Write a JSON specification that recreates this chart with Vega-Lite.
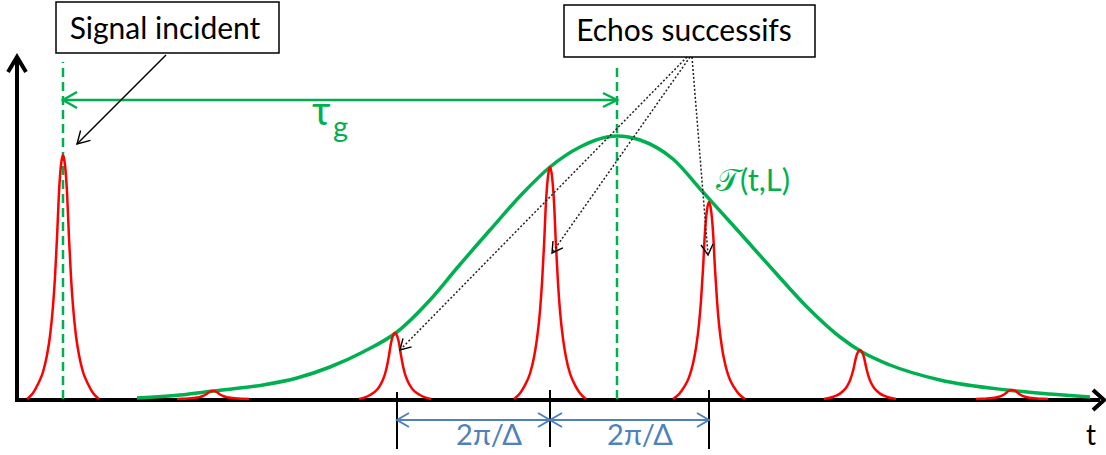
{
"$schema":"https://vega.github.io/schema/vega-lite/v6.json",
"width":1106,"height":455,"padding":0,"autosize":{"type":"none"},
"background":"white",
"config":{"view":{"stroke":null}},
"datasets":{
"seg":[
{"g":"axH","s":"axis","o":0,"x":15,"y":-1},{"g":"axH","s":"axis","o":1,"x":1100,"y":-1},
{"g":"axHh","s":"axis","o":0,"x":1093,"y":9},{"g":"axHh","s":"axis","o":1,"x":1104,"y":-1},{"g":"axHh","s":"axis","o":2,"x":1093,"y":-11},
{"g":"axV","s":"axis","o":0,"x":17,"y":-3},{"g":"axV","s":"axis","o":1,"x":17,"y":339},
{"g":"axVh","s":"axis","o":0,"x":8,"y":327},{"g":"axVh","s":"axis","o":1,"x":17,"y":342},{"g":"axVh","s":"axis","o":2,"x":26,"y":327},
{"g":"t1","s":"tick","o":0,"x":397,"y":7},{"g":"t1","s":"tick","o":1,"x":397,"y":-50},
{"g":"t2","s":"tick","o":0,"x":550,"y":9},{"g":"t2","s":"tick","o":1,"x":550,"y":-48},
{"g":"t3","s":"tick","o":0,"x":709,"y":9},{"g":"t3","s":"tick","o":1,"x":709,"y":-50},
{"g":"d1","s":"gdash","o":0,"x":63,"y":0},{"g":"d1","s":"gdash","o":1,"x":63,"y":337},
{"g":"d2","s":"gdash","o":0,"x":617,"y":0},{"g":"d2","s":"gdash","o":1,"x":617,"y":334},
{"g":"ga","s":"garrow","o":0,"x":63,"y":299},{"g":"ga","s":"garrow","o":1,"x":617,"y":299},
{"g":"gaL","s":"garrow","o":0,"x":77,"y":307},{"g":"gaL","s":"garrow","o":1,"x":63,"y":299},{"g":"gaL","s":"garrow","o":2,"x":77,"y":291},
{"g":"gaR","s":"garrow","o":0,"x":603,"y":306},{"g":"gaR","s":"garrow","o":1,"x":617,"y":299},{"g":"gaR","s":"garrow","o":2,"x":603,"y":292},
{"g":"sa","s":"barrow","o":0,"x":166,"y":344},{"g":"sa","s":"barrow","o":1,"x":77,"y":255},
{"g":"saH","s":"barrow","o":0,"x":90.5,"y":258.6},{"g":"saH","s":"barrow","o":1,"x":77,"y":255},{"g":"saH","s":"barrow","o":2,"x":80.6,"y":268.5},
{"g":"e3","s":"dot","o":0,"x":687,"y":342},{"g":"e3","s":"dot","o":1,"x":400,"y":49},
{"g":"e4","s":"dot","o":0,"x":690,"y":342},{"g":"e4","s":"dot","o":1,"x":552,"y":146},
{"g":"e5","s":"dot","o":0,"x":692,"y":342},{"g":"e5","s":"dot","o":1,"x":708,"y":144},
{"g":"h3","s":"barrow","o":0,"x":411.6,"y":52.2},{"g":"h3","s":"barrow","o":1,"x":400,"y":49},{"g":"h3","s":"barrow","o":2,"x":403,"y":60.6},
{"g":"h4","s":"barrow","o":0,"x":562.9,"y":151.1},{"g":"h4","s":"barrow","o":1,"x":552,"y":146},{"g":"h4","s":"barrow","o":2,"x":553,"y":158},
{"g":"h5","s":"barrow","o":0,"x":713,"y":155},{"g":"h5","s":"barrow","o":1,"x":708,"y":144},{"g":"h5","s":"barrow","o":2,"x":701,"y":154},
{"g":"b1","s":"blue","o":0,"x":397,"y":-21},{"g":"b1","s":"blue","o":1,"x":550,"y":-21},
{"g":"b2","s":"blue","o":0,"x":550,"y":-21},{"g":"b2","s":"blue","o":1,"x":709,"y":-21},
{"g":"bh1","s":"blue","o":0,"x":409,"y":-14},{"g":"bh1","s":"blue","o":1,"x":397,"y":-21},{"g":"bh1","s":"blue","o":2,"x":409,"y":-28},
{"g":"bh2","s":"blue","o":0,"x":538,"y":-14},{"g":"bh2","s":"blue","o":1,"x":550,"y":-21},{"g":"bh2","s":"blue","o":2,"x":538,"y":-28},
{"g":"bh3","s":"blue","o":0,"x":562,"y":-14},{"g":"bh3","s":"blue","o":1,"x":550,"y":-21},{"g":"bh3","s":"blue","o":2,"x":562,"y":-28},
{"g":"bh4","s":"blue","o":0,"x":697,"y":-14},{"g":"bh4","s":"blue","o":1,"x":709,"y":-21},{"g":"bh4","s":"blue","o":2,"x":697,"y":-28}
],
"env":[
{"x":137,"y":1},{"x":180,"y":4},{"x":213,"y":8},{"x":263,"y":14},{"x":297,"y":21},{"x":330,"y":32},{"x":363,"y":47},{"x":397,"y":67},{"x":430,"y":99},{"x":457,"y":131},{"x":490,"y":169},{"x":523,"y":206},{"x":550,"y":232},{"x":580,"y":252},{"x":607,"y":262},{"x":617,"y":263},{"x":640,"y":259},{"x":673,"y":240},{"x":702,"y":208},{"x":740,"y":166},{"x":773,"y":129},{"x":807,"y":92},{"x":840,"y":62},{"x":862,"y":47},{"x":890,"y":34},{"x":940,"y":19},{"x":1007,"y":9},{"x":1050,"y":5},{"x":1090,"y":2}
],
"pulse":[
{"g":1,"x":27,"y":0},{"g":1,"x":33,"y":6},{"g":1,"x":38,"y":15},{"g":1,"x":43,"y":27},{"g":1,"x":47,"y":44},{"g":1,"x":50,"y":63},{"g":1,"x":53,"y":93},{"g":1,"x":55,"y":122},{"g":1,"x":57,"y":161},{"g":1,"x":59,"y":207},{"g":1,"x":61,"y":234},{"g":1,"x":63,"y":244},{"g":1,"x":65,"y":234},{"g":1,"x":67,"y":207},{"g":1,"x":69,"y":161},{"g":1,"x":71,"y":122},{"g":1,"x":73,"y":93},{"g":1,"x":76,"y":63},{"g":1,"x":79,"y":44},{"g":1,"x":83,"y":27},{"g":1,"x":88,"y":15},{"g":1,"x":93,"y":6},{"g":1,"x":99,"y":0},
{"g":2,"x":177,"y":0},{"g":2,"x":183,"y":0.2},{"g":2,"x":188,"y":0.5},{"g":2,"x":193,"y":0.9},{"g":2,"x":197,"y":1.4},{"g":2,"x":200,"y":2.1},{"g":2,"x":203,"y":3},{"g":2,"x":205,"y":4},{"g":2,"x":207,"y":5.3},{"g":2,"x":209,"y":6.8},{"g":2,"x":211,"y":7.7},{"g":2,"x":213,"y":8},{"g":2,"x":215,"y":7.7},{"g":2,"x":217,"y":6.8},{"g":2,"x":219,"y":5.3},{"g":2,"x":221,"y":4},{"g":2,"x":223,"y":3},{"g":2,"x":226,"y":2.1},{"g":2,"x":229,"y":1.4},{"g":2,"x":233,"y":0.9},{"g":2,"x":238,"y":0.5},{"g":2,"x":243,"y":0.2},{"g":2,"x":249,"y":0},
{"g":3,"x":359,"y":0},{"g":3,"x":365,"y":1.7},{"g":3,"x":370,"y":4},{"g":3,"x":375,"y":7.3},{"g":3,"x":379,"y":11.9},{"g":3,"x":382,"y":17.2},{"g":3,"x":385,"y":25},{"g":3,"x":387,"y":33},{"g":3,"x":389,"y":43.6},{"g":3,"x":391,"y":56},{"g":3,"x":393,"y":63.4},{"g":3,"x":395,"y":66},{"g":3,"x":397,"y":63.4},{"g":3,"x":399,"y":56},{"g":3,"x":401,"y":43.6},{"g":3,"x":403,"y":33},{"g":3,"x":405,"y":25},{"g":3,"x":408,"y":17.2},{"g":3,"x":411,"y":11.9},{"g":3,"x":415,"y":7.3},{"g":3,"x":420,"y":4},{"g":3,"x":425,"y":1.7},{"g":3,"x":431,"y":0},
{"g":4,"x":514,"y":0},{"g":4,"x":520,"y":5.8},{"g":4,"x":525,"y":13.9},{"g":4,"x":530,"y":25.5},{"g":4,"x":534,"y":41.8},{"g":4,"x":537,"y":60.3},{"g":4,"x":540,"y":88.2},{"g":4,"x":542,"y":116},{"g":4,"x":544,"y":153.1},{"g":4,"x":546,"y":197.2},{"g":4,"x":548,"y":222.7},{"g":4,"x":550,"y":232},{"g":4,"x":552,"y":222.7},{"g":4,"x":554,"y":197.2},{"g":4,"x":556,"y":153.1},{"g":4,"x":558,"y":116},{"g":4,"x":560,"y":88.2},{"g":4,"x":563,"y":60.3},{"g":4,"x":566,"y":41.8},{"g":4,"x":570,"y":25.5},{"g":4,"x":575,"y":13.9},{"g":4,"x":580,"y":5.8},{"g":4,"x":586,"y":0},
{"g":5,"x":673,"y":0},{"g":5,"x":679,"y":4.9},{"g":5,"x":684,"y":11.8},{"g":5,"x":689,"y":21.7},{"g":5,"x":693,"y":35.5},{"g":5,"x":696,"y":51.2},{"g":5,"x":699,"y":74.9},{"g":5,"x":701,"y":98.5},{"g":5,"x":703,"y":130},{"g":5,"x":705,"y":167.5},{"g":5,"x":707,"y":189.1},{"g":5,"x":709,"y":197},{"g":5,"x":711,"y":189.1},{"g":5,"x":713,"y":167.5},{"g":5,"x":715,"y":130},{"g":5,"x":717,"y":98.5},{"g":5,"x":719,"y":74.9},{"g":5,"x":722,"y":51.2},{"g":5,"x":725,"y":35.5},{"g":5,"x":729,"y":21.7},{"g":5,"x":734,"y":11.8},{"g":5,"x":739,"y":4.9},{"g":5,"x":745,"y":0},
{"g":6,"x":824,"y":0},{"g":6,"x":830,"y":1.2},{"g":6,"x":835,"y":2.9},{"g":6,"x":840,"y":5.4},{"g":6,"x":844,"y":8.8},{"g":6,"x":847,"y":12.7},{"g":6,"x":850,"y":18.6},{"g":6,"x":852,"y":24.5},{"g":6,"x":854,"y":32.3},{"g":6,"x":856,"y":41.7},{"g":6,"x":858,"y":47},{"g":6,"x":860,"y":49},{"g":6,"x":862,"y":47},{"g":6,"x":864,"y":41.7},{"g":6,"x":866,"y":32.3},{"g":6,"x":868,"y":24.5},{"g":6,"x":870,"y":18.6},{"g":6,"x":873,"y":12.7},{"g":6,"x":876,"y":8.8},{"g":6,"x":880,"y":5.4},{"g":6,"x":885,"y":2.9},{"g":6,"x":890,"y":1.2},{"g":6,"x":896,"y":0},
{"g":7,"x":976,"y":0},{"g":7,"x":982,"y":0.2},{"g":7,"x":987,"y":0.5},{"g":7,"x":992,"y":1},{"g":7,"x":996,"y":1.6},{"g":7,"x":999,"y":2.3},{"g":7,"x":1002,"y":3.4},{"g":7,"x":1004,"y":4.5},{"g":7,"x":1006,"y":5.9},{"g":7,"x":1008,"y":7.7},{"g":7,"x":1010,"y":8.6},{"g":7,"x":1012,"y":9},{"g":7,"x":1014,"y":8.6},{"g":7,"x":1016,"y":7.7},{"g":7,"x":1018,"y":5.9},{"g":7,"x":1020,"y":4.5},{"g":7,"x":1022,"y":3.4},{"g":7,"x":1025,"y":2.3},{"g":7,"x":1028,"y":1.6},{"g":7,"x":1032,"y":1},{"g":7,"x":1037,"y":0.5},{"g":7,"x":1042,"y":0.2},{"g":7,"x":1048,"y":0}
],
"boxes":[
{"x":56,"x2":279,"y":397,"y2":346},
{"x":564,"x2":815,"y":394,"y2":342}
],
"texts":[
{"k":"box","t":"Signal incident","x":165,"y":360},
{"k":"box","t":"Echos successifs","x":684,"y":358},
{"k":"tau","t":"τ","x":312,"y":274},
{"k":"sub","t":"g","x":333,"y":262},
{"k":"T","t":"𝒯(t,L)","x":716,"y":208},
{"k":"blue","t":"2π/Δ","x":489,"y":-46},
{"k":"blue","t":"2π/Δ","x":640,"y":-46},
{"k":"t","t":"t","x":1091,"y":-46}
]
},
"encoding":{
"x":{"field":"x","type":"quantitative","scale":{"domain":[0,1106],"nice":false,"zero":false},"axis":null},
"y":{"field":"y","type":"quantitative","scale":{"domain":[-56,399],"nice":false,"zero":false},"axis":null}
},
"layer":[
{"data":{"name":"seg"},"transform":[{"filter":"datum.s=='axis'"}],"mark":{"type":"line","color":"#000000","strokeWidth":4,"strokeJoin":"miter"},"encoding":{"detail":{"field":"g"},"order":{"field":"o"}}},
{"data":{"name":"seg"},"transform":[{"filter":"datum.s=='tick'"}],"mark":{"type":"line","color":"#000000","strokeWidth":2},"encoding":{"detail":{"field":"g"},"order":{"field":"o"}}},
{"data":{"name":"seg"},"transform":[{"filter":"datum.s=='gdash'"}],"mark":{"type":"line","color":"#00B050","strokeWidth":2.5,"strokeDash":[9,5]},"encoding":{"detail":{"field":"g"},"order":{"field":"o"}}},
{"data":{"name":"env"},"mark":{"type":"line","color":"#00B050","strokeWidth":3.5,"interpolate":"monotone"},"encoding":{}},
{"data":{"name":"pulse"},"mark":{"type":"line","color":"#FF0000","strokeWidth":2.5,"interpolate":"monotone"},"encoding":{"detail":{"field":"g"}}},
{"data":{"name":"seg"},"transform":[{"filter":"datum.s=='garrow'"}],"mark":{"type":"line","color":"#00B050","strokeWidth":2.5},"encoding":{"detail":{"field":"g"},"order":{"field":"o"}}},
{"data":{"name":"seg"},"transform":[{"filter":"datum.s=='barrow'"}],"mark":{"type":"line","color":"#000000","strokeWidth":1.4},"encoding":{"detail":{"field":"g"},"order":{"field":"o"}}},
{"data":{"name":"seg"},"transform":[{"filter":"datum.s=='dot'"}],"mark":{"type":"line","color":"#222222","strokeWidth":1.5,"strokeDash":[2,2]},"encoding":{"detail":{"field":"g"},"order":{"field":"o"}}},
{"data":{"name":"seg"},"transform":[{"filter":"datum.s=='blue'"}],"mark":{"type":"line","color":"#4F81BD","strokeWidth":2},"encoding":{"detail":{"field":"g"},"order":{"field":"o"}}},
{"data":{"name":"boxes"},"mark":{"type":"rect","fill":"#FFFFFF","stroke":"#000000","strokeWidth":1.5},"encoding":{"x2":{"field":"x2"},"y2":{"field":"y2"}}},
{"data":{"name":"texts"},"transform":[{"filter":"datum.k=='box'"}],"mark":{"type":"text","font":"Lato","fontSize":30,"color":"#000000","align":"center","baseline":"alphabetic"},"encoding":{"text":{"field":"t"}}},
{"data":{"name":"texts"},"transform":[{"filter":"datum.k=='tau'"}],"mark":{"type":"text","font":"Lato","fontSize":40,"color":"#00B050","align":"left","baseline":"alphabetic"},"encoding":{"text":{"field":"t"}}},
{"data":{"name":"texts"},"transform":[{"filter":"datum.k=='sub'"}],"mark":{"type":"text","font":"Lato","fontSize":29,"color":"#00B050","align":"left","baseline":"alphabetic"},"encoding":{"text":{"field":"t"}}},
{"data":{"name":"texts"},"transform":[{"filter":"datum.k=='T'"}],"mark":{"type":"text","font":"Lato","fontSize":31,"color":"#00B050","align":"left","baseline":"alphabetic"},"encoding":{"text":{"field":"t"}}},
{"data":{"name":"texts"},"transform":[{"filter":"datum.k=='blue'"}],"mark":{"type":"text","font":"Lato","fontSize":29,"color":"#4F81BD","align":"center","baseline":"alphabetic"},"encoding":{"text":{"field":"t"}}},
{"data":{"name":"texts"},"transform":[{"filter":"datum.k=='t'"}],"mark":{"type":"text","font":"Lato","fontSize":28,"color":"#000000","align":"center","baseline":"alphabetic"},"encoding":{"text":{"field":"t"}}}
]
}
